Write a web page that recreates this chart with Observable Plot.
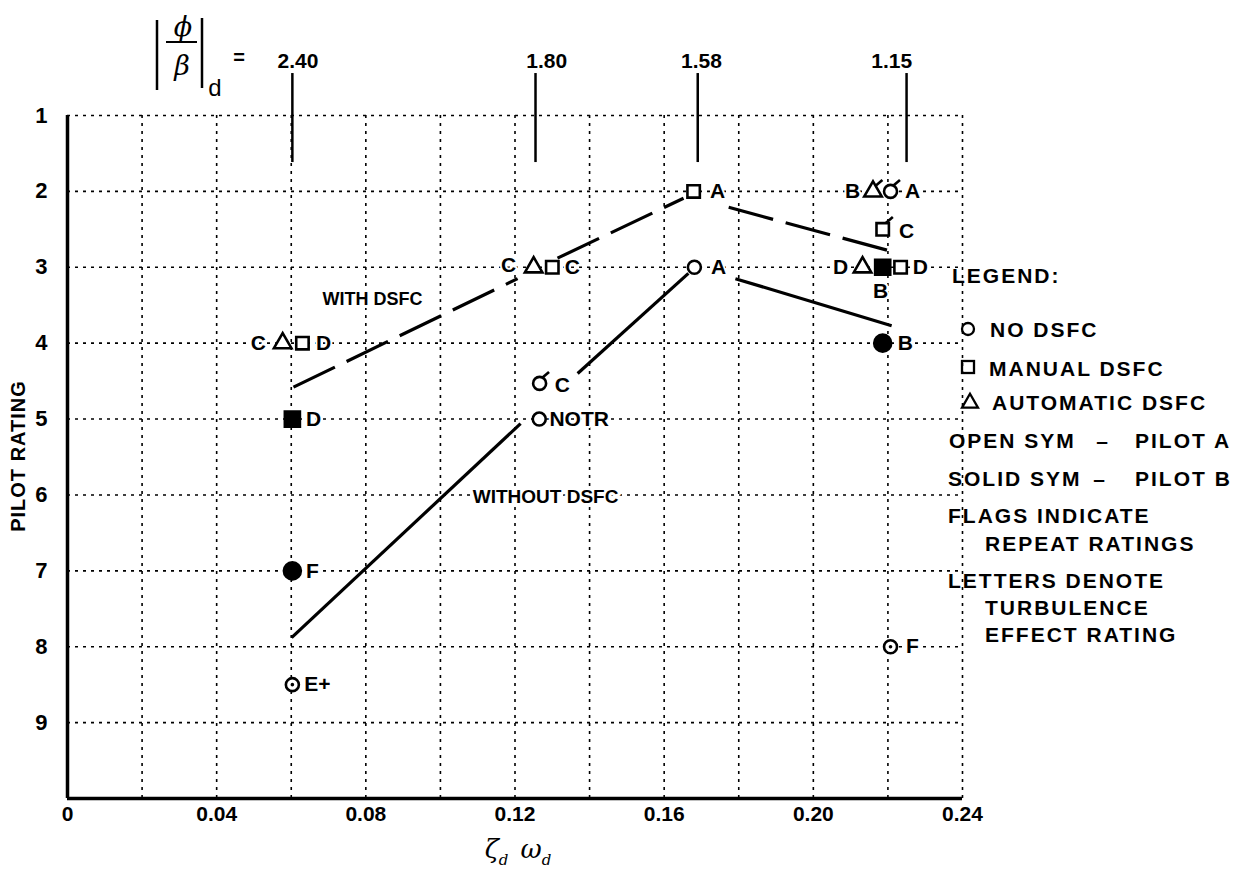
<!DOCTYPE html>
<html><head><meta charset="utf-8">
<script src="https://cdn.jsdelivr.net/npm/d3@7"></script>
<script src="https://cdn.jsdelivr.net/npm/@observablehq/plot@0.6"></script>
<style>body{margin:0;background:#fff} svg{display:block;background:#fff}</style>
</head><body><div id="chart"></div>
<script>
// ---------- data ----------
const xTicks = [0, 0.04, 0.08, 0.12, 0.16, 0.20, 0.24];
const xGrid = [0.02, 0.04, 0.06, 0.08, 0.10, 0.12, 0.14, 0.16, 0.18, 0.20, 0.22, 0.24];
const yTicks = [1, 2, 3, 4, 5, 6, 7, 8, 9];
const phiBetaLabels = ["2.40", "1.80", "1.58", "1.15"];
const phiBetaX = [0.0603, 0.1255, 0.1690, 0.2250];
const phiBetaLabelX = [0.0618, 0.1285, 0.1700, 0.2210];

// open = pilot A, solid = pilot B, repeat = flagged symbol
const noDSFC = [
  {zw: 0.0603, rating: 8.5, pilot: "A", repeat: false, dot: true},
  {zw: 0.0603, rating: 7.0, pilot: "B", repeat: false},
  {zw: 0.1265, rating: 5.0, pilot: "A", repeat: false},
  {zw: 0.1266, rating: 4.53, pilot: "A", repeat: true},
  {zw: 0.1681, rating: 3.0, pilot: "A", repeat: false},
  {zw: 0.2207, rating: 2.0, pilot: "A", repeat: true},
  {zw: 0.2186, rating: 4.0, pilot: "B", repeat: false},
  {zw: 0.2207, rating: 8.0, pilot: "A", repeat: false, dot: true}
];
const manualDSFC = [
  {zw: 0.0630, rating: 4.0, pilot: "A", repeat: false},
  {zw: 0.0603, rating: 5.0, pilot: "B", repeat: false},
  {zw: 0.1300, rating: 3.0, pilot: "A", repeat: false},
  {zw: 0.1679, rating: 2.0, pilot: "A", repeat: false},
  {zw: 0.2186, rating: 2.5, pilot: "A", repeat: true},
  {zw: 0.2186, rating: 3.0, pilot: "B", repeat: false},
  {zw: 0.2234, rating: 3.0, pilot: "A", repeat: false}
];
const autoDSFC = [
  {zw: 0.0577, rating: 4.0, pilot: "A", repeat: false},
  {zw: 0.1250, rating: 3.0, pilot: "A", repeat: false},
  {zw: 0.2132, rating: 3.0, pilot: "A", repeat: false},
  {zw: 0.2160, rating: 2.0, pilot: "A", repeat: true}
];
// turbulence effect letters
const letters = [
  {zw: 0.0512, rating: 4.0, t: "C"},
  {zw: 0.0687, rating: 4.0, t: "D"},
  {zw: 0.0660, rating: 5.0, t: "D"},
  {zw: 0.0657, rating: 7.0, t: "F"},
  {zw: 0.0670, rating: 8.5, t: "E+"},
  {zw: 0.1183, rating: 2.98, t: "C"},
  {zw: 0.1354, rating: 3.0, t: "C"},
  {zw: 0.1327, rating: 4.56, t: "C"},
  {zw: 0.1372, rating: 5.0, t: "NOTR"},
  {zw: 0.1743, rating: 2.0, t: "A"},
  {zw: 0.1746, rating: 3.0, t: "A"},
  {zw: 0.2105, rating: 2.0, t: "B"},
  {zw: 0.2266, rating: 2.0, t: "A"},
  {zw: 0.2250, rating: 2.52, t: "C"},
  {zw: 0.2073, rating: 3.0, t: "D"},
  {zw: 0.2287, rating: 3.0, t: "D"},
  {zw: 0.2180, rating: 3.32, t: "B"},
  {zw: 0.2247, rating: 4.0, t: "B"},
  {zw: 0.2266, rating: 8.0, t: "F"}
];
const curveLabels = [
  {zw: 0.0818, rating: 3.42, t: "WITH DSFC", size: 18},
  {zw: 0.1282, rating: 6.03, t: "WITHOUT DSFC", size: 19}
];
// faired curves (segments)
const withDSFC = [
  {zw1: 0.0606, r1: 4.58, zw2: 0.1207, r2: 3.15},
  {zw1: 0.1314, r1: 2.88, zw2: 0.1652, r2: 2.09},
  {zw1: 0.1773, r1: 2.21, zw2: 0.2202, r2: 2.78}
];
const withoutDSFC = [
  {zw1: 0.0601, r1: 7.88, zw2: 0.1215, r2: 5.06},
  {zw1: 0.1368, r1: 4.40, zw2: 0.1665, r2: 3.08},
  {zw1: 0.1791, r1: 3.15, zw2: 0.2210, r2: 3.77}
];

// ---------- chart ----------
const FONT = "'Liberation Sans', Arial, Helvetica, sans-serif";
const topTicks = phiBetaLabels.map((t, i) => ({t, zw: phiBetaX[i], lx: phiBetaLabelX[i]}));
const flagSymbol = {draw(ctx, size) {
  const r = Math.sqrt(size / Math.PI);
  ctx.moveTo(r * 0.45, -r * 0.9);
  ctx.lineTo(r * 1.45, -r * 1.75);
}};
const fillOf = d => d.pilot === "B" ? "black" : "white";
const all = [
  ...noDSFC.map(d => ({...d, sym: "circle", rr: d.pilot === "B" ? 8.5 : 6.5})),
  ...manualDSFC.map(d => ({...d, sym: "square", rr: d.pilot === "B" ? 8.5 : 7})),
  ...autoDSFC.map(d => ({...d, sym: "triangle", rr: 6.5}))
];

const svg = Plot.plot({
  width: 1241,
  height: 871,
  marginLeft: 67,
  marginRight: 279,
  marginTop: 115,
  marginBottom: 73,
  x: {domain: [0, 0.24], axis: null},
  y: {domain: [1, 10], reverse: true, axis: null},
  r: {type: "identity"},
  style: {fontFamily: FONT, background: "white", color: "black"},
  marks: [
    Plot.ruleX(xGrid, {stroke: "black", strokeWidth: 1.6, strokeDasharray: "3,5"}),
    Plot.ruleY(yTicks, {stroke: "black", strokeWidth: 1.6, strokeDasharray: "3,5"}),
    Plot.ruleX([0], {y1: 1, y2: 10, strokeWidth: 3.5}),
    Plot.ruleY([10], {x1: 0, x2: 0.24, strokeWidth: 3.5}),
    Plot.axisX({ticks: xTicks, tickSize: 0, tickPadding: 8, fontSize: 21, fontWeight: "bold", label: null,
      tickFormat: d => d === 0 ? "0" : d3.format(".2f")(d)}),
    Plot.axisY({ticks: yTicks, tickSize: 0, tickPadding: 20, fontSize: 22, fontWeight: "bold", label: null}),
    // top |phi/beta| ticks
    Plot.ruleX(topTicks, {x: "zw", y1: 0.447, y2: 1.62, strokeWidth: 2.5}),
    Plot.text(topTicks, {x: "lx", y: 0.38, text: "t", lineAnchor: "bottom", fontSize: 21, fontWeight: "bold"}),
    // curves
    Plot.link(withDSFC, {x1: "zw1", y1: "r1", x2: "zw2", y2: "r2", strokeWidth: 3.2, strokeDasharray: "46,13"}),
    Plot.link(withoutDSFC, {x1: "zw1", y1: "r1", x2: "zw2", y2: "r2", strokeWidth: 3.2}),
    // labels with halo
    Plot.text(curveLabels, {x: "zw", y: "rating", text: "t", fontSize: "size", fontWeight: "bold",
      stroke: "white", strokeWidth: 6, fill: "black", style: "letter-spacing:1px"}),
    Plot.text(letters, {x: "zw", y: "rating", text: "t", fontSize: 21, fontWeight: "bold",
      stroke: "white", strokeWidth: 4, fill: "black"}),
    // symbols
    Plot.dot(all, {x: "zw", y: "rating", symbol: "sym", r: "rr", fill: fillOf, stroke: "black", strokeWidth: 2.6}),
    Plot.dot(all.filter(d => d.repeat), {x: "zw", y: "rating", symbol: () => flagSymbol, r: "rr", stroke: "black", strokeWidth: 2.6, fill: "none"}),
    Plot.dot(all.filter(d => d.dot), {x: "zw", y: "rating", r: 1.8, fill: "black"})
  ]
});
document.getElementById("chart").appendChild(svg);

const s = d3.select(svg);
s.selectAll("text").attr("font-family", FONT);
function txt(x, y, str, o = {}) {
  return s.append("text").attr("x", x).attr("y", y).text(str)
    .attr("font-family", o.family || FONT).attr("font-size", o.size || 21)
    .attr("font-weight", o.weight || "bold").attr("font-style", o.style || "normal")
    .attr("letter-spacing", o.ls ?? 0).attr("text-anchor", o.anchor || "start").attr("fill", "black");
}
// y title
txt(0, 0, "PILOT RATING", {size: 20, ls: 1, anchor: "middle"}).attr("transform", "translate(25,456) rotate(-90)");
// x title  ζd ωd
const xt = s.append("text").attr("x", 518).attr("y", 858).attr("text-anchor", "middle")
  .attr("font-family", "'DejaVu Serif', serif")
  .attr("font-style", "italic").attr("font-size", 26).attr("fill", "black");
xt.append("tspan").text("ζ");
xt.append("tspan").attr("font-size", 15).attr("dy", 7).text("d");
xt.append("tspan").attr("dy", -7).attr("dx", 12).text("ω");
xt.append("tspan").attr("font-size", 15).attr("dy", 7).text("d");
// |phi/beta|_d =
s.append("line").attr("x1", 157).attr("x2", 157).attr("y1", 20).attr("y2", 90).attr("stroke", "black").attr("stroke-width", 2.5);
s.append("line").attr("x1", 202).attr("x2", 202).attr("y1", 18).attr("y2", 88).attr("stroke", "black").attr("stroke-width", 2.5);
s.append("line").attr("x1", 166).attr("x2", 197).attr("y1", 42).attr("y2", 42).attr("stroke", "black").attr("stroke-width", 2);
txt(183, 36, "ϕ", {family: "'DejaVu Serif', serif", style: "italic", weight: "normal", size: 27, anchor: "middle"});
txt(182, 75, "β", {family: "'DejaVu Serif', serif", style: "italic", weight: "normal", size: 27, anchor: "middle"});
txt(215, 96, "d", {weight: "normal", size: 24, anchor: "middle"});
txt(239, 64, "=", {size: 20, anchor: "middle"});
// legend
txt(952, 283, "LEGEND:", {ls: 2});
s.append("circle").attr("cx", 968).attr("cy", 329).attr("r", 6).attr("fill", "none").attr("stroke", "black").attr("stroke-width", 2.3);
txt(990, 337, "NO DSFC", {ls: 2});
s.append("rect").attr("x", 962).attr("y", 361).attr("width", 12).attr("height", 12).attr("fill", "none").attr("stroke", "black").attr("stroke-width", 2.3);
txt(989, 376, "MANUAL DSFC", {ls: 2});
s.append("path").attr("d", d3.symbol(d3.symbolTriangle, 110)()).attr("transform", "translate(970,403)")
  .attr("fill", "none").attr("stroke", "black").attr("stroke-width", 2.3);
txt(992, 410, "AUTOMATIC DSFC", {ls: 2});
txt(949, 448, "OPEN SYM", {ls: 2});
txt(1102, 448, "–", {anchor: "middle"});
txt(1135, 448, "PILOT A", {ls: 2});
txt(948, 486, "SOLID SYM", {ls: 2});
txt(1099, 486, "–", {anchor: "middle"});
txt(1135, 486, "PILOT B", {ls: 2});
txt(948, 523, "FLAGS INDICATE", {ls: 2});
txt(985, 551, "REPEAT RATINGS", {ls: 2});
txt(948, 588, "LETTERS DENOTE", {ls: 2});
txt(985, 615, "TURBULENCE", {ls: 2});
txt(985, 642, "EFFECT RATING", {ls: 2});
</script>
</body></html>
